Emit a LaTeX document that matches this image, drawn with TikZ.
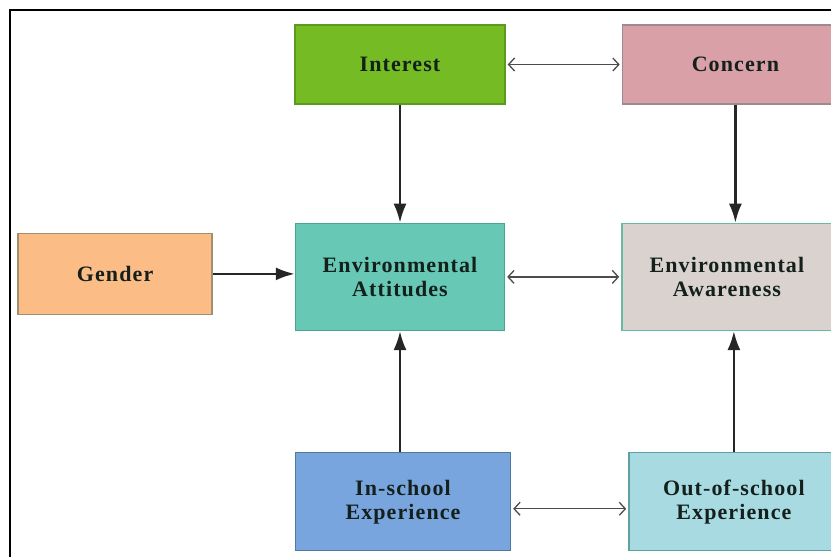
\documentclass[tikz,border=0pt]{standalone}
\usepackage{fontspec}
\usepackage{tikz}
\usetikzlibrary{arrows.meta,positioning}
\newfontfamily\boxfont[LetterSpace=5]{Liberation Serif}
\definecolor{cint}{HTML}{74BB24}
\definecolor{cintD}{HTML}{5A9A1E}
\definecolor{ccon}{HTML}{D9A0A8}
\definecolor{cconD}{HTML}{9C8A8E}
\definecolor{cgen}{HTML}{FBBC85}
\definecolor{cgenD}{HTML}{A09070}
\definecolor{catt}{HTML}{66C8B5}
\definecolor{cattD}{HTML}{4AA590}
\definecolor{cawa}{HTML}{D9D2CE}
\definecolor{cawaD}{HTML}{66BBA0}
\definecolor{cins}{HTML}{79A5DE}
\definecolor{cinsD}{HTML}{4F7A99}
\definecolor{cout}{HTML}{A8DAE2}
\definecolor{coutD}{HTML}{5FA0A0}
\definecolor{ctxt}{HTML}{14201C}
\tikzset{
  fbox/.style={draw, align=center, inner sep=4pt, line width=1.4pt,
               text=ctxt, font=\boxfont\bfseries\fontsize{22}{24}\selectfont},
  nint/.style={fbox, fill=cint, draw=cintD, minimum width=210pt, minimum height=79pt},
  ncon/.style={fbox, fill=ccon, draw=cconD, minimum width=226pt, minimum height=79pt},
  ngen/.style={fbox, fill=cgen, draw=cgenD, minimum width=194pt, minimum height=81pt},
  natt/.style={fbox, fill=catt, draw=cattD, minimum width=209pt, minimum height=107pt},
  nawa/.style={fbox, fill=cawa, draw=cawaD, minimum width=210pt, minimum height=107pt},
  nins/.style={fbox, fill=cins, draw=cinsD, minimum width=215pt, minimum height=98pt},
  nout/.style={fbox, fill=cout, draw=coutD, minimum width=210pt, minimum height=98pt},
  flow/.style={-{Latex[length=19pt,width=13pt]}, line width=2.4pt, draw=black!85},
  link/.style={{Straight Barb[length=6pt,width=13pt]}-{Straight Barb[length=6pt,width=13pt]},
               line width=1.3pt, draw=black!70, shorten <=2pt, shorten >=2pt},
  frame/.style={line width=2pt, draw=black},
}
\begin{document}
\begin{tikzpicture}[x=1pt, y=1pt]
  \useasboundingbox (0,0) rectangle (831,557);
  \draw[frame] (10,0) -- (10,547) -- (831,547);
  % top row
  \node[nint] (interest) at (400,492.5) {Interest};
  \node[ncon, right=116pt of interest] (concern) {Concern};
  % middle row
  \node[natt, below=118pt of interest] (attit) {Environmental\\Attitudes};
  \node[nawa, right=116pt of attit] (aware) {Environmental\\Awareness};
  \node[ngen, left=82pt of attit, yshift=3pt] (gender) {Gender};
  % bottom row
  \node[nins, below=121pt of attit, xshift=3pt] (insch) {In-school\\Experience};
  \node[nout, right=117pt of insch] (outsch) {Out-of-school\\Experience};
  % connectors
  \draw[link] (interest) -- (concern);
  \draw[link] (attit) -- (aware);
  \draw[link] ([yshift=-7pt]insch.east) -- ([yshift=-7pt]outsch.west);
  \draw[flow] (interest) -- (attit);
  \draw[flow] (concern) -- (concern |- aware.north);
  \draw[flow] (gender) -- (gender -| attit.west);
  \draw[flow] (insch.north -| attit) -- (attit);
  \draw[flow] (outsch) -- (outsch |- aware.south);
\end{tikzpicture}
\end{document}
